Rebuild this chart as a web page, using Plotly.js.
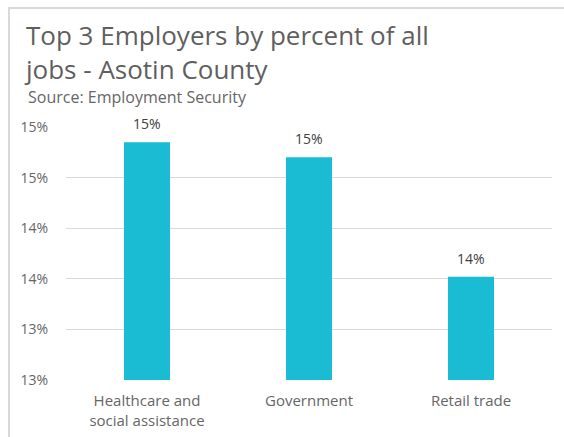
<!DOCTYPE html>
<html>
<head>
<meta charset="utf-8">
<script src="https://cdn.plot.ly/plotly-3.0.1.min.js"></script>
<style>
  html, body { margin: 0; padding: 0; background: #fff; }
  #wrap { position: relative; width: 564px; height: 437px; overflow: hidden; }
  #chart { width: 564px; height: 437px; }
  #frame { position: absolute; left: 8px; top: 7px; width: 600px; height: 500px;
           border-left: 2px solid #d9d9d9; border-top: 2px solid #d9d9d9; pointer-events: none; }
</style>
</head>
<body>
<div id="wrap">
  <div id="chart"></div>
  <div id="frame"></div>
</div>
<script>
const categories = ["Healthcare and<br>social assistance", "Government", "Retail trade"];
const values = [15.35, 15.2, 14.02];
const tickValues = [13, 13.5, 14, 14.5, 15, 15.5];
const tickLabels = ["13%", "13%", "14%", "14%", "15%", "15%"];

const FONT = "'Open Sans', Lato, sans-serif";

const trace = {
  type: "bar",
  x: categories,
  y: values,
  marker: { color: "#1ABCD3" },
  hoverinfo: "none"
};

const labelAnnotations = categories.map((c, i) => ({
  x: c, y: values[i], xref: "x", yref: "y",
  text: Math.round(values[i]) + "%",
  showarrow: false, yanchor: "bottom", yshift: 7,
  font: { family: FONT, size: 14, color: "#404040" }
}));

const layout = {
  width: 564, height: 437,
  margin: { l: 66, r: 12, t: 127, b: 57 },
  paper_bgcolor: "#fff", plot_bgcolor: "#fff",
  bargap: 0.716,
  showlegend: false,
  title: {
    text: "Top 3 Employers by percent of all<br>jobs - Asotin County",
    xref: "container", yref: "container",
    x: 26 / 564, xanchor: "left",
    y: 1 - 45 / 437, yanchor: "middle",
    font: { family: FONT, size: 26, color: "#5f5f5f" }
  },
  xaxis: {
    type: "category",
    tickfont: { family: FONT, size: 15, color: "#666666" },
    showgrid: false, showline: false, ticks: "", zeroline: false,
    ticklabelstandoff: 10
  },
  yaxis: {
    range: [13, 15.5],
    tickvals: tickValues, ticktext: tickLabels,
    tickfont: { family: FONT, size: 14, color: "#666666" },
    showgrid: true, gridcolor: "#d9d9d9", gridwidth: 1,
    zeroline: false, showline: false, ticks: "",
    ticklabelstandoff: 17
  },
  annotations: [
    {
      text: "Source: Employment Security",
      xref: "paper", yref: "paper",
      x: (26 - 66) / (564 - 66 - 12), xanchor: "left",
      y: 1 + (127 - 97) / (437 - 127 - 57), yanchor: "middle",
      showarrow: false,
      font: { family: FONT, size: 16, color: "#666666" }
    }
  ].concat(labelAnnotations)
};

Plotly.newPlot("chart", [trace], layout, { displayModeBar: false, staticPlot: true });
</script>
</body>
</html>
